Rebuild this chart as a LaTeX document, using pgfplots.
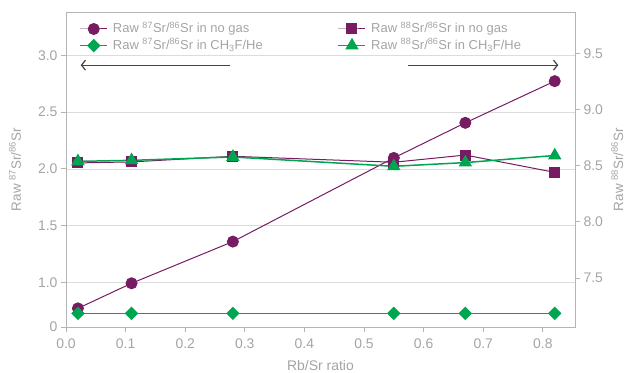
\documentclass[border=0pt]{standalone}
\usepackage{pgfplots}
\pgfplotsset{compat=1.18}
\usepackage{fontspec}
\setmainfont{Liberation Sans}
\usetikzlibrary{arrows.meta}
\definecolor{cpur}{HTML}{771C63}
\definecolor{cgrn}{HTML}{00A550}
\definecolor{ctxt}{HTML}{A4A4A4}
\definecolor{caxis}{HTML}{B4B4B4}
\definecolor{cgrid}{HTML}{DCDCDC}
\definecolor{carrow}{HTML}{444444}
\pgfplotsset{
 base/.style={
  scale only axis, width=509bp, height=315bp,
  xmin=0, xmax=0.854,
  axis line style={caxis, line width=0.9bp},
  tick style={caxis, line width=0.9bp},
  major tick length=5bp,
  tick align=outside,
  ticklabel style={font=\fontsize{14}{16}\selectfont, text=ctxt},
  label style={font=\fontsize{14}{16}\selectfont, text=ctxt},
  /pgf/number format/assume math mode=true,
 },
 legimg/.style={legend image code/.code={\draw[mark repeat=2,mark phase=2,##1] plot coordinates {(0bp,0bp) (13.5bp,0bp) (27bp,0bp)}; \path (30bp,0bp);}},
}
\begin{document}
\begin{tikzpicture}
\begin{axis}[base, name=ax,
  ymin=0.608, ymax=3.382,
  xtick={0,0.1,0.2,0.3,0.4,0.5,0.6,0.7,0.8},
  xticklabel style={yshift=-3bp, /pgf/number format/fixed, /pgf/number format/fixed zerofill, /pgf/number format/precision=1},
  xtick pos=bottom, ytick pos=left,
  ytick={0.608,1,1.5,2,2.5,3},
  yticklabels={0,1.0,1.5,2.0,2.5,3.0},
  ymajorgrids, grid style={cgrid, line width=0.8bp},
  xlabel={Rb/Sr ratio},
  xlabel style={yshift=-5bp},
  ylabel={Raw \textsuperscript{87}Sr/\textsuperscript{86}Sr},
  ylabel style={at={(axis description cs:-0.1,0.5)}, anchor=center, font=\fontsize{13.5}{15}\selectfont},
 ]
\addplot[cpur, line width=1bp, mark=*, mark size=5.5bp] coordinates {(0.02,0.772)(0.11,0.993)(0.28,1.36)(0.55,2.097)(0.67,2.406)(0.82,2.773)};
\addplot[cgrn, line width=1.5bp, mark=square*, mark size=4bp, mark options={rotate=45}] coordinates {(0.02,0.728)(0.11,0.728)(0.28,0.728)(0.55,0.728)(0.67,0.728)(0.82,0.728)};
\draw[carrow, line width=1.2bp, -{Straight Barb[length=4bp, width=10bp]}] (axis cs:0.275,2.914) -- (axis cs:0.0247,2.914);
\draw[carrow, line width=1.2bp, -{Straight Barb[length=4bp, width=10bp]}] (axis cs:0.574,2.914) -- (axis cs:0.826,2.914);
\end{axis}
\begin{axis}[base, legimg,
  ymin=7.064, ymax=9.867,
  axis x line=none, axis y line*=right,
  ytick={7.5,8,8.5,9,9.5},
  yticklabel style={/pgf/number format/fixed, /pgf/number format/fixed zerofill, /pgf/number format/precision=1},
  ylabel={Raw \textsuperscript{88}Sr/\textsuperscript{86}Sr},
  ylabel style={at={(axis description cs:1.083,0.5)}, anchor=center, font=\fontsize{13.5}{15}\selectfont},
  legend columns=2,
  legend cell align=left,
  legend style={at={(rel axis cs:0,1)}, anchor=north west, draw=none, fill=none,
    font=\fontsize{13}{15}\selectfont, text=ctxt, inner xsep=13.3bp, inner ysep=8.5bp,
    nodes={text height=10bp, text depth=3bp, inner ysep=1.8bp},
    /tikz/every even column/.append style={column sep=73bp}},
 ]
\addlegendimage{cpur, line width=1bp, mark=*, mark size=5.5bp}
\addlegendentry{Raw \textsuperscript{87}Sr/\textsuperscript{86}Sr in no gas}
\addlegendimage{cpur, line width=1bp, mark=square*, mark size=5bp}
\addlegendentry{Raw \textsuperscript{88}Sr/\textsuperscript{86}Sr in no gas}
\addlegendimage{cgrn, line width=1.5bp, mark=square*, mark size=4bp, mark options={rotate=45}}
\addlegendentry{Raw \textsuperscript{87}Sr/\textsuperscript{86}Sr in CH\textsubscript{3}F/He}
\addlegendimage{cgrn, line width=1.5bp, mark=triangle*, mark size=6.3bp}
\addlegendentry{Raw \textsuperscript{88}Sr/\textsuperscript{86}Sr in CH\textsubscript{3}F/He}
\addplot[forget plot, cpur, line width=1bp, mark=square*, mark size=5bp] coordinates {(0.02,8.524)(0.11,8.533)(0.28,8.583)(0.55,8.53)(0.67,8.594)(0.82,8.44)};
\addplot[forget plot, cgrn, line width=1.5bp, mark=triangle*, mark size=6.3bp] coordinates {(0.02,8.538)(0.11,8.547)(0.28,8.577)(0.55,8.494)(0.67,8.527)(0.82,8.59)};
\end{axis}
\pgfresetboundingbox
\path ([xshift=-66bp,yshift=-46bp]ax.south west) rectangle ([xshift=53bp,yshift=12bp]ax.north east);
\end{tikzpicture}
\end{document}
